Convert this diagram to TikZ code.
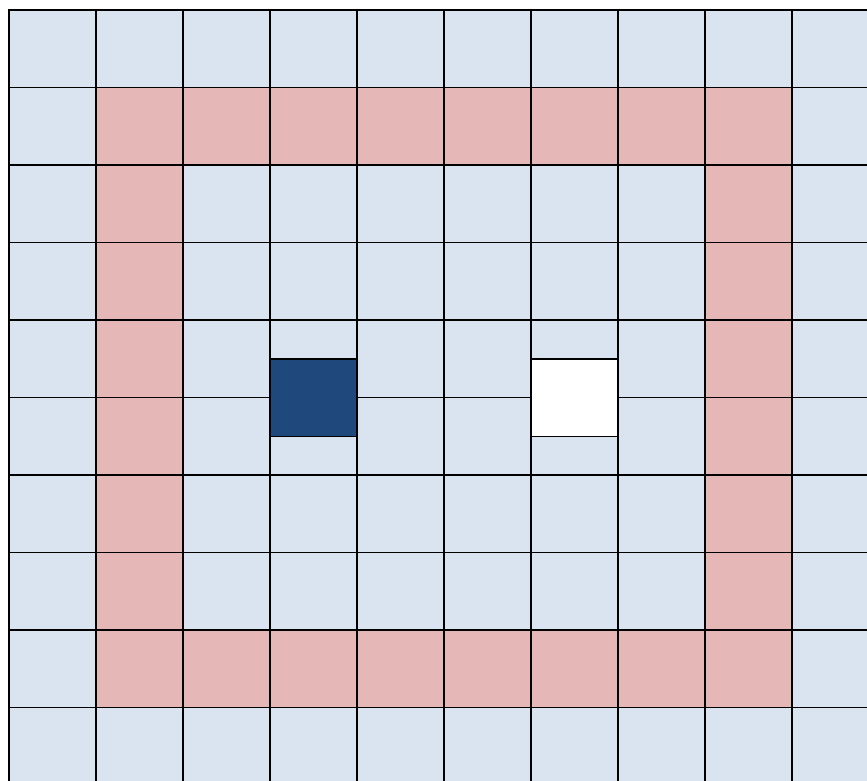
\documentclass[tikz,border=0pt]{standalone}
\usepackage{tikz}
\definecolor{cellblue}{HTML}{DAE4F0}
\definecolor{cellpink}{HTML}{E5B8B7}
\definecolor{darkblue}{HTML}{1F497D}
\begin{document}
\begin{tikzpicture}[x=1pt,y=-1pt,
  cell/.style={draw=black,line width=1.5pt,minimum width=87pt,minimum height=77.5pt,inner sep=0pt,outer sep=0pt}]
\useasboundingbox (0,0) rectangle (867,780);
\clip (0,0) rectangle (867,780);
\foreach \r in {0,...,9}{
  \foreach \c in {0,...,9}{
    \pgfmathtruncatemacro\pk{(\r>0)*(\r<9)*(\c>0)*(\c<9)*(((\r==1)+(\r==8)+(\c==1)+(\c==8))>0)}
    \ifnum\pk=1 \def\col{cellpink}\else\def\col{cellblue}\fi
    \node[cell,fill=\col] (c-\r-\c) at ({9+87*\c+43.5},{10+77.5*\r+38.75}) {};
  }
}
\node[cell,fill=darkblue] (start) at (313.5,397.5) {};
\node[cell,fill=white] (goal) at (574.5,397.5) {};
\end{tikzpicture}
\end{document}
